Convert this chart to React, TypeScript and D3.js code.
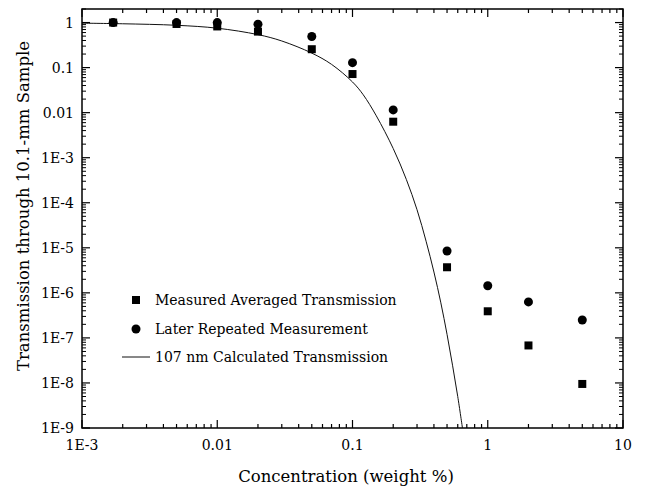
import React from "react";
import * as d3 from "d3";

const concentrations = [0.0017, 0.005, 0.01, 0.02, 0.05, 0.1, 0.2, 0.5, 1, 2, 5];
const measuredAvg = [1.0, 0.93, 0.82, 0.63, 0.256, 0.072, 0.0063, 3.7e-6, 3.9e-7, 6.8e-8, 9.5e-9];
const laterRepeated = [1.0, 1.0, 1.0, 0.92, 0.49, 0.129, 0.0115, 8.5e-6, 1.44e-6, 6.3e-7, 2.5e-7];

const calcConc = [0.001, 0.002, 0.005, 0.01, 0.02, 0.03, 0.05, 0.07, 0.1, 0.12, 0.15, 0.2, 0.25, 0.3, 0.35, 0.4, 0.45, 0.5, 0.55, 0.6, 0.65];
const calcTrans = [0.97, 0.94, 0.87, 0.75, 0.54, 0.39, 0.21, 0.118, 0.048, 0.025, 0.0085, 1.6e-3, 3.3e-4, 7e-5, 1.4e-5, 2.9e-6, 6e-7, 1.2e-7, 2.4e-8, 5e-9, 1e-9];

const xTickValues = [0.001, 0.01, 0.1, 1, 10];
const xTickLabels = ["1E-3", "0.01", "0.1", "1", "10"];
const yTickValues = [1, 0.1, 0.01, 1e-3, 1e-4, 1e-5, 1e-6, 1e-7, 1e-8, 1e-9];
const yTickLabels = ["1", "0.1", "0.01", "1E-3", "1E-4", "1E-5", "1E-6", "1E-7", "1E-8", "1E-9"];

const legendLabels = ["Measured Averaged Transmission", "Later Repeated Measurement", "107 nm Calculated Transmission"];

export default function App() {
  const W = 645, H = 490;
  const L = 82, R = 623, T = 9, B = 428;
  const x = d3.scaleLog().domain([1e-3, 10]).range([L, R]);
  const y = d3.scaleLog().domain([1e-9, 2]).range([B, T]);
  const font = "'DejaVu Serif', serif";

  const minorX: number[] = [];
  for (let e = -3; e < 1; e++) for (let m = 2; m <= 9; m++) minorX.push(m * Math.pow(10, e));
  const minorY: number[] = [];
  for (let e = -9; e <= 0; e++) for (let m = 2; m <= 9; m++) {
    const v = m * Math.pow(10, e);
    if (v <= 2) minorY.push(v);
  }

  const line = d3.line<number>()
    .x((_, i) => x(calcConc[i]))
    .y((_, i) => y(calcTrans[i]))
    .curve(d3.curveCatmullRom.alpha(0.5));

  const sq = 8;
  const cr = 4.5;
  const ts = { fontFamily: font };

  return (
    <svg width={W} height={H} style={{ position: "absolute", left: 0, top: 0, background: "#fff", fontFamily: font }}>
      <rect x={0} y={0} width={W} height={H} fill="#fff" />
      <defs>
        <clipPath id="plotclip">
          <rect x={L} y={T} width={R - L} height={B - T} />
        </clipPath>
      </defs>
      <path d={line(calcTrans) || ""} fill="none" stroke="#111" strokeWidth={1} clipPath="url(#plotclip)" />
      {concentrations.map((c, i) => (
        <rect key={"s" + i} x={x(c) - sq / 2} y={y(measuredAvg[i]) - sq / 2} width={sq} height={sq} fill="#000" />
      ))}
      {concentrations.map((c, i) => (
        <circle key={"c" + i} cx={x(c)} cy={y(laterRepeated[i])} r={cr} fill="#000" />
      ))}
      {xTickValues.map((v, i) => (
        <g key={"xt" + i}>
          <line x1={x(v)} x2={x(v)} y1={B} y2={B - 8} stroke="#000" strokeWidth={1.2} />
          <line x1={x(v)} x2={x(v)} y1={T} y2={T + 8} stroke="#000" strokeWidth={1.2} />
          <text x={x(v)} y={B + 22} textAnchor="middle" style={ts} fontSize={14}>{xTickLabels[i]}</text>
        </g>
      ))}
      {minorX.map((v, i) => (
        <g key={"xm" + i}>
          <line x1={x(v)} x2={x(v)} y1={B} y2={B - 4} stroke="#000" strokeWidth={1.2} />
          <line x1={x(v)} x2={x(v)} y1={T} y2={T + 4} stroke="#000" strokeWidth={1.2} />
        </g>
      ))}
      {yTickValues.map((v, i) => (
        <g key={"yt" + i}>
          <line x1={L} x2={L + 8} y1={y(v)} y2={y(v)} stroke="#000" strokeWidth={1.2} />
          <line x1={R} x2={R - 8} y1={y(v)} y2={y(v)} stroke="#000" strokeWidth={1.2} />
          <text x={74} y={y(v) + 5} textAnchor="end" style={ts} fontSize={14}>{yTickLabels[i]}</text>
        </g>
      ))}
      {minorY.map((v, i) => (
        <g key={"ym" + i}>
          <line x1={L} x2={L + 4} y1={y(v)} y2={y(v)} stroke="#000" strokeWidth={1} />
          <line x1={R} x2={R - 4} y1={y(v)} y2={y(v)} stroke="#000" strokeWidth={1} />
        </g>
      ))}
      <rect x={L} y={T} width={R - L} height={B - T} fill="none" stroke="#000" strokeWidth={1.5} />
      <text x={346} y={482} textAnchor="middle" style={ts} fontSize={16.5}>Concentration (weight %)</text>
      <text transform={`translate(29, 206) rotate(-90)`} textAnchor="middle" style={ts} fontSize={16.5}>Transmission through 10.1-mm Sample</text>
      <g style={ts} fontSize={14}>
        <rect x={136 - 4} y={300 - 4} width={8} height={8} fill="#000" />
        <text x={155} y={305}>{legendLabels[0]}</text>
        <circle cx={136} cy={329} r={4.5} fill="#000" />
        <text x={155} y={334}>{legendLabels[1]}</text>
        <line x1={122} x2={150} y1={357} y2={357} stroke="#111" strokeWidth={1} />
        <text x={155} y={362}>{legendLabels[2]}</text>
      </g>
    </svg>
  );
}
